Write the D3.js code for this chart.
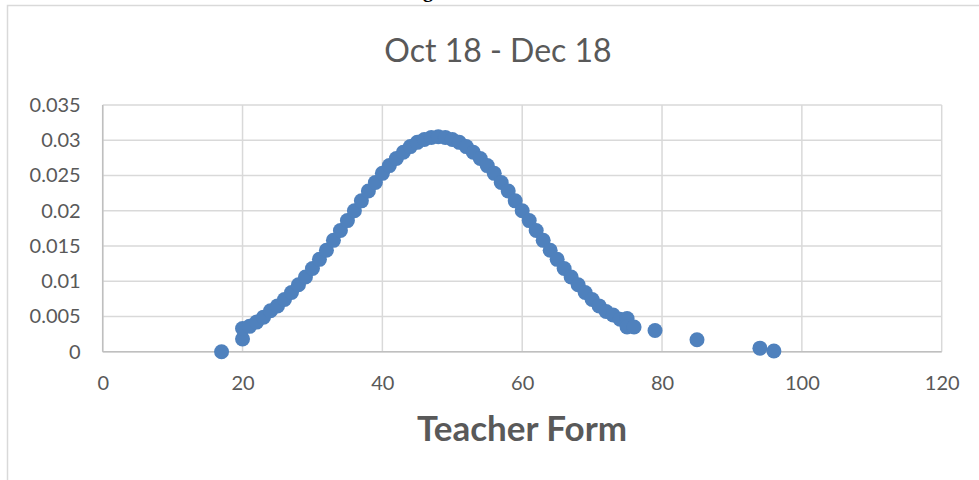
<!DOCTYPE html>
<html><head><meta charset="utf-8">
<script src="https://cdn.jsdelivr.net/npm/d3@7"></script>
<style>html,body{margin:0;padding:0;background:#fff;overflow:hidden}</style>
</head><body>
<svg id="chart" width="979" height="480"></svg>
<script>
const title = "Oct 18 - Dec 18";
const xTitle = "Teacher Form";
const xTicks = [0, 20, 40, 60, 80, 100, 120];
const yTicks = [0, 0.005, 0.01, 0.015, 0.02, 0.025, 0.03, 0.035];
const yTickLabels = ["0", "0.005", "0.01", "0.015", "0.02", "0.025", "0.03", "0.035"];
const scoreX = [17,20,20,21,22,23,24,25,26,27,28,29,30,31,32,33,34,35,36,37,38,39,40,41,42,43,44,45,46,47,48,49,50,51,52,53,54,55,56,57,58,59,60,61,62,63,64,65,66,67,68,69,70,71,72,73,74,75,75,76,79,85,94,96];
const densityY = [0,0.0018,0.0033,0.0036,0.0042,0.0049,0.0058,0.0065,0.0074,0.0084,0.0095,0.0106,0.0118,0.0131,0.0144,0.0158,0.0172,0.0186,0.0200,0.0214,0.0228,0.0240,0.0253,0.0264,0.0274,0.0283,0.0291,0.0297,0.0301,0.0304,0.0305,0.0304,0.0301,0.0297,0.0291,0.0283,0.0274,0.0264,0.0253,0.0240,0.0228,0.0214,0.0200,0.0186,0.0172,0.0158,0.0144,0.0131,0.0118,0.0106,0.0095,0.0084,0.0074,0.0065,0.0057,0.0052,0.0046,0.0047,0.0035,0.0035,0.0030,0.0017,0.0005,0.0001];

const svg = d3.select("#chart");
const L = 102.7, R = 941.7, T = 105, B = 351.7;
const x = d3.scaleLinear().domain([0, 120]).range([L, R]);
const y = d3.scaleLinear().domain([0, 0.035]).range([B, T]);
const font = "Lato, 'Open Sans', sans-serif";

// caption fragment above the chart (only its descender is visible in the reference)
svg.append("text").attr("x", 428).attr("y", -3).attr("text-anchor", "middle")
  .attr("font-family", "'Liberation Serif', serif").attr("font-weight", "bold")
  .attr("font-size", 20).attr("fill", "#000").text("g");

// chart border
svg.append("rect").attr("x", 7.5).attr("y", 5.5).attr("width", 1000).attr("height", 500)
  .attr("fill", "#fff").attr("stroke", "#D9D9D9").attr("stroke-width", 1.5);

// gridlines
svg.append("g").selectAll("line").data(yTicks).join("line")
  .attr("x1", L).attr("x2", R).attr("y1", d => y(d)).attr("y2", d => y(d))
  .attr("stroke", "#D9D9D9").attr("stroke-width", 1.5);
svg.append("g").selectAll("line").data(xTicks).join("line")
  .attr("y1", T).attr("y2", B).attr("x1", d => x(d)).attr("x2", d => x(d))
  .attr("stroke", "#D9D9D9").attr("stroke-width", 1.5);

// axes lines
svg.append("line").attr("x1", L).attr("x2", L).attr("y1", T).attr("y2", B)
  .attr("stroke", "#BFBFBF").attr("stroke-width", 1.5);
svg.append("line").attr("x1", L).attr("x2", R).attr("y1", B).attr("y2", B)
  .attr("stroke", "#BFBFBF").attr("stroke-width", 1.5);

// tick labels via d3 axes
const yAxis = d3.axisLeft(y).tickValues(yTicks).tickSize(0).tickPadding(22)
  .tickFormat((d, i) => yTickLabels[i]);
const gy = svg.append("g").attr("transform", `translate(${L},0)`).call(yAxis);
const xAxis = d3.axisBottom(x).tickValues(xTicks).tickSize(0).tickPadding(24).tickFormat(d3.format("d"));
const gx = svg.append("g").attr("transform", `translate(0,${B})`).call(xAxis);
[gy, gx].forEach(g => {
  g.select(".domain").remove();
  g.selectAll("text").attr("font-family", font).attr("font-size", 20).attr("fill", "#595959");
});

// points
svg.append("g").selectAll("circle").data(scoreX.map((v, i) => [v, densityY[i]])).join("circle")
  .attr("cx", d => x(d[0])).attr("cy", d => y(d[1])).attr("r", 7.5)
  .attr("fill", "#4F81BD");

// title
svg.append("text").attr("x", 498).attr("y", 62).attr("text-anchor", "middle")
  .attr("font-family", font).attr("font-size", 32).attr("fill", "#595959").text(title);

// x-axis title
svg.append("text").attr("x", 522).attr("y", 441).attr("text-anchor", "middle")
  .attr("font-family", font).attr("font-weight", "bold").attr("font-size", 35)
  .attr("fill", "#595959").text(xTitle);
</script>
</body></html>
